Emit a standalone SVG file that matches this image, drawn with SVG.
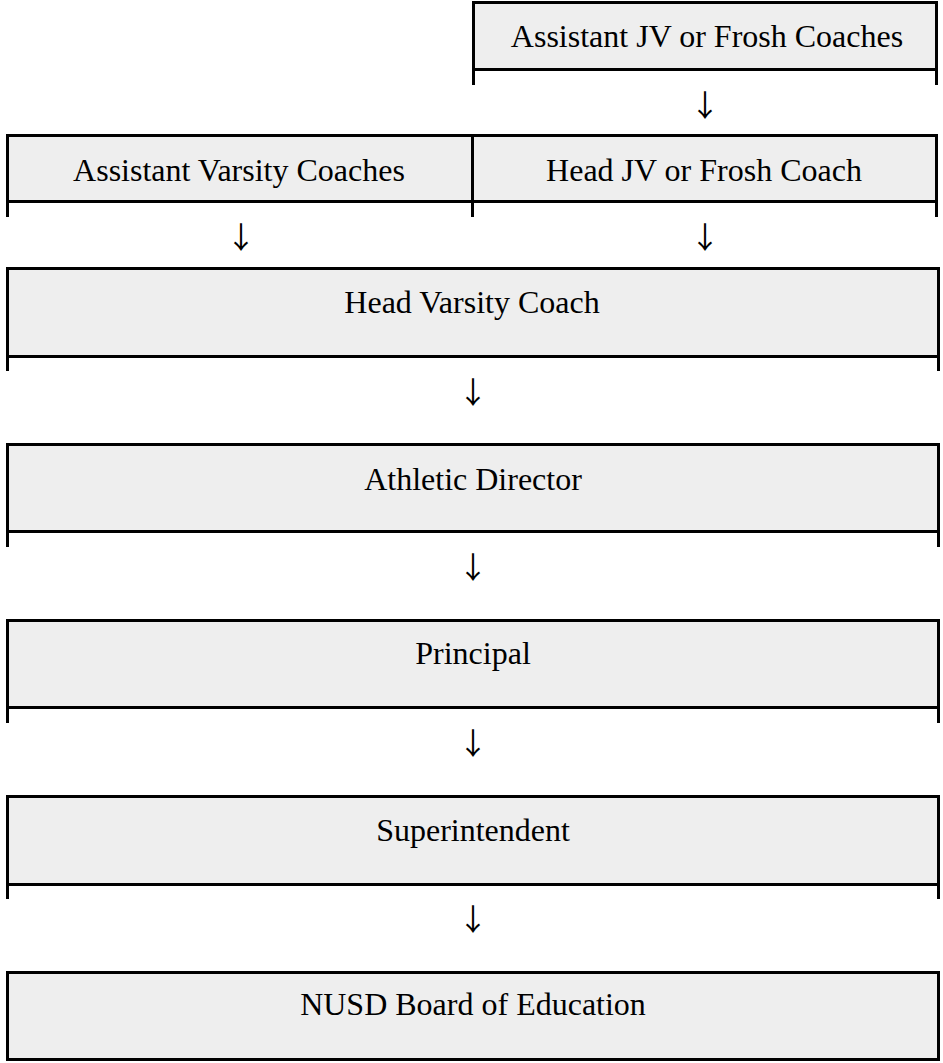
<svg xmlns="http://www.w3.org/2000/svg" width="943" height="1063" viewBox="0 0 943 1063">
<style>
.cell{fill:#eeeeee}
.b{fill:#000000}
.t{font-family:"Liberation Serif","Times New Roman",serif;font-size:32px;text-anchor:middle;fill:#000000}
.ar{font-family:"Noto Sans CJK JP","Liberation Serif",sans-serif;font-size:30px;text-anchor:middle;fill:#000000}
</style>
<rect x="0" y="0" width="943" height="1063" fill="#ffffff"/>
<g id="node-asst-jv">
<rect class="cell" x="472" y="1" width="466" height="70"/>
<rect class="b" x="472" y="1" width="466" height="3"/>
<rect class="b" x="472" y="68" width="466" height="3"/>
<rect class="b" x="472" y="1" width="3" height="84"/>
<rect class="b" x="935" y="1" width="3" height="84"/>
<text class="t" x="707" y="47">Assistant JV or Frosh Coaches</text>
</g>
<g id="node-asst-varsity">
<rect class="cell" x="6" y="134" width="468" height="69"/>
<rect class="b" x="6" y="134" width="468" height="3"/>
<rect class="b" x="6" y="200" width="468" height="3"/>
<rect class="b" x="6" y="134" width="3" height="83"/>
<rect class="b" x="471" y="134" width="3" height="83"/>
<text class="t" x="239" y="181">Assistant Varsity Coaches</text>
</g>
<g id="node-head-jv">
<rect class="cell" x="471" y="134" width="467" height="69"/>
<rect class="b" x="471" y="134" width="467" height="3"/>
<rect class="b" x="471" y="200" width="467" height="3"/>
<rect class="b" x="471" y="134" width="3" height="83"/>
<rect class="b" x="935" y="134" width="3" height="83"/>
<text class="t" x="704" y="181">Head JV or Frosh Coach</text>
</g>
<g id="node-head-varsity">
<rect class="cell" x="6" y="267" width="934" height="91"/>
<rect class="b" x="6" y="267" width="934" height="3"/>
<rect class="b" x="6" y="355" width="934" height="3"/>
<rect class="b" x="6" y="267" width="3" height="104"/>
<rect class="b" x="937" y="267" width="3" height="104"/>
<text class="t" x="472" y="313">Head Varsity Coach</text>
</g>
<g id="node-athletic-director">
<rect class="cell" x="6" y="443" width="934" height="90"/>
<rect class="b" x="6" y="443" width="934" height="3"/>
<rect class="b" x="6" y="530" width="934" height="3"/>
<rect class="b" x="6" y="443" width="3" height="104"/>
<rect class="b" x="937" y="443" width="3" height="104"/>
<text class="t" x="473" y="490">Athletic Director</text>
</g>
<g id="node-principal">
<rect class="cell" x="6" y="619" width="934" height="90"/>
<rect class="b" x="6" y="619" width="934" height="3"/>
<rect class="b" x="6" y="706" width="934" height="3"/>
<rect class="b" x="6" y="619" width="3" height="104"/>
<rect class="b" x="937" y="619" width="3" height="104"/>
<text class="t" x="473" y="664">Principal</text>
</g>
<g id="node-superintendent">
<rect class="cell" x="6" y="795" width="934" height="91"/>
<rect class="b" x="6" y="795" width="934" height="3"/>
<rect class="b" x="6" y="883" width="934" height="3"/>
<rect class="b" x="6" y="795" width="3" height="104"/>
<rect class="b" x="937" y="795" width="3" height="104"/>
<text class="t" x="473" y="841">Superintendent</text>
</g>
<g id="node-board">
<rect class="cell" x="6" y="971" width="934" height="90"/>
<rect class="b" x="6" y="971" width="934" height="3"/>
<rect class="b" x="6" y="1058" width="934" height="3"/>
<rect class="b" x="6" y="971" width="3" height="90"/>
<rect class="b" x="937" y="971" width="3" height="90"/>
<text class="t" x="473" y="1015">NUSD Board of Education</text>
</g>
<g id="connectors">
<text class="ar" x="705" y="116">↓</text>
<text class="ar" x="241" y="248">↓</text>
<text class="ar" x="705" y="248">↓</text>
<text class="ar" x="473" y="403">↓</text>
<text class="ar" x="473" y="578">↓</text>
<text class="ar" x="473" y="754">↓</text>
<text class="ar" x="473" y="930">↓</text>
</g>
</svg>
